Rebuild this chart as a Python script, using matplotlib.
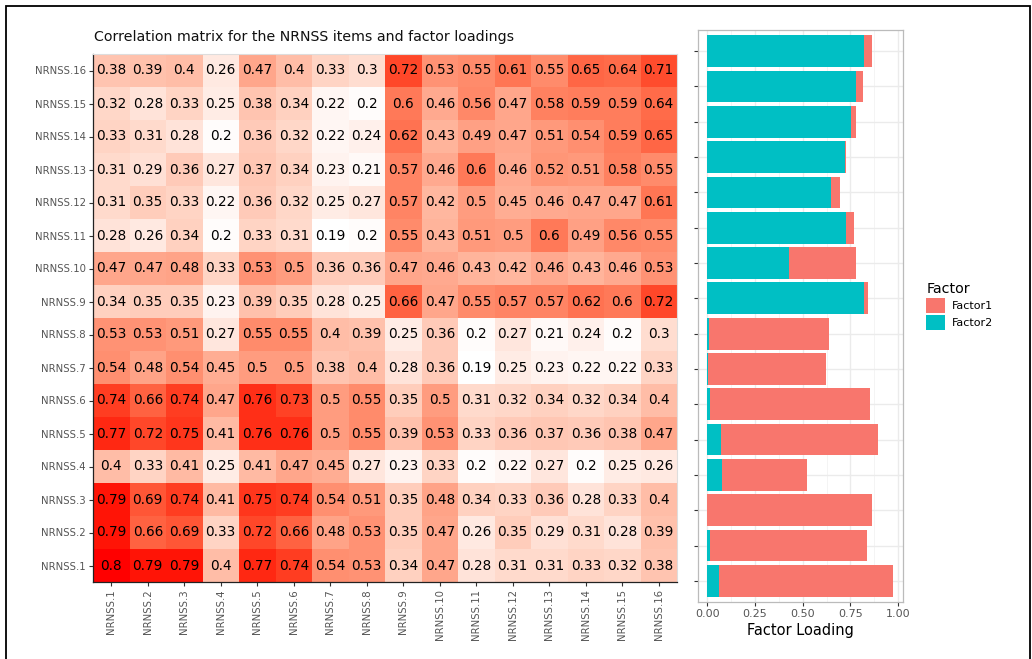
import numpy as np
import matplotlib
matplotlib.use("Agg")
import matplotlib.pyplot as plt
from matplotlib.colors import ListedColormap
from matplotlib.patches import Rectangle, Patch

items = ["NRNSS.%d" % i for i in range(1, 17)]

# correlation rows, listed for row labels NRNSS.1 ... NRNSS.16 ; columns NRNSS.1 ... NRNSS.16
row_1 = [0.8, 0.79, 0.79, 0.4, 0.77, 0.74, 0.54, 0.53, 0.34, 0.47, 0.28, 0.31, 0.31, 0.33, 0.32, 0.38]
row_2 = [0.79, 0.66, 0.69, 0.33, 0.72, 0.66, 0.48, 0.53, 0.35, 0.47, 0.26, 0.35, 0.29, 0.31, 0.28, 0.39]
row_3 = [0.79, 0.69, 0.74, 0.41, 0.75, 0.74, 0.54, 0.51, 0.35, 0.48, 0.34, 0.33, 0.36, 0.28, 0.33, 0.4]
row_4 = [0.4, 0.33, 0.41, 0.25, 0.41, 0.47, 0.45, 0.27, 0.23, 0.33, 0.2, 0.22, 0.27, 0.2, 0.25, 0.26]
row_5 = [0.77, 0.72, 0.75, 0.41, 0.76, 0.76, 0.5, 0.55, 0.39, 0.53, 0.33, 0.36, 0.37, 0.36, 0.38, 0.47]
row_6 = [0.74, 0.66, 0.74, 0.47, 0.76, 0.73, 0.5, 0.55, 0.35, 0.5, 0.31, 0.32, 0.34, 0.32, 0.34, 0.4]
row_7 = [0.54, 0.48, 0.54, 0.45, 0.5, 0.5, 0.38, 0.4, 0.28, 0.36, 0.19, 0.25, 0.23, 0.22, 0.22, 0.33]
row_8 = [0.53, 0.53, 0.51, 0.27, 0.55, 0.55, 0.4, 0.39, 0.25, 0.36, 0.2, 0.27, 0.21, 0.24, 0.2, 0.3]
row_9 = [0.34, 0.35, 0.35, 0.23, 0.39, 0.35, 0.28, 0.25, 0.66, 0.47, 0.55, 0.57, 0.57, 0.62, 0.6, 0.72]
row_10 = [0.47, 0.47, 0.48, 0.33, 0.53, 0.5, 0.36, 0.36, 0.47, 0.46, 0.43, 0.42, 0.46, 0.43, 0.46, 0.53]
row_11 = [0.28, 0.26, 0.34, 0.2, 0.33, 0.31, 0.19, 0.2, 0.55, 0.43, 0.51, 0.5, 0.6, 0.49, 0.56, 0.55]
row_12 = [0.31, 0.35, 0.33, 0.22, 0.36, 0.32, 0.25, 0.27, 0.57, 0.42, 0.5, 0.45, 0.46, 0.47, 0.47, 0.61]
row_13 = [0.31, 0.29, 0.36, 0.27, 0.37, 0.34, 0.23, 0.21, 0.57, 0.46, 0.6, 0.46, 0.52, 0.51, 0.58, 0.55]
row_14 = [0.33, 0.31, 0.28, 0.2, 0.36, 0.32, 0.22, 0.24, 0.62, 0.43, 0.49, 0.47, 0.51, 0.54, 0.59, 0.65]
row_15 = [0.32, 0.28, 0.33, 0.25, 0.38, 0.34, 0.22, 0.2, 0.6, 0.46, 0.56, 0.47, 0.58, 0.59, 0.59, 0.64]
row_16 = [0.38, 0.39, 0.4, 0.26, 0.47, 0.4, 0.33, 0.3, 0.72, 0.53, 0.55, 0.61, 0.55, 0.65, 0.64, 0.71]

# factor loadings for NRNSS.1 ... NRNSS.16
factor2 = [0.059, 0.016, 0.0, 0.077, 0.070, 0.014, 0.003, 0.010,
           0.822, 0.429, 0.728, 0.646, 0.721, 0.752, 0.782, 0.820]
factor1 = [0.917, 0.820, 0.862, 0.448, 0.827, 0.839, 0.620, 0.629,
           0.021, 0.348, 0.042, 0.050, 0.005, 0.025, 0.036, 0.046]

corr = np.array([row_1, row_2, row_3, row_4, row_5, row_6, row_7, row_8,
                 row_9, row_10, row_11, row_12, row_13, row_14, row_15, row_16])


def lab_to_rgb(L, a, b):
    fy = (L + 16) / 116.0
    fx = fy + a / 500.0
    fz = fy - b / 200.0

    def finv(t):
        return t ** 3 if t ** 3 > 0.008856 else (t - 16 / 116.0) / 7.787
    X = 0.95047 * finv(fx)
    Y = 1.0 * finv(fy)
    Z = 1.08883 * finv(fz)
    r = 3.2406 * X - 1.5372 * Y - 0.4986 * Z
    g = -0.9689 * X + 1.8758 * Y + 0.0415 * Z
    bb = 0.0557 * X - 0.2040 * Y + 1.0570 * Z
    out = []
    for c in (r, g, bb):
        c = max(c, 0.0)
        c = 12.92 * c if c <= 0.0031308 else 1.055 * c ** (1 / 2.4) - 0.055
        out.append(min(max(c, 0.0), 1.0))
    return out


lab_lo = np.array([100.0, 0.0, 0.0])
lab_hi = np.array([53.24, 80.09, 67.20])
cols = [lab_to_rgb(*(lab_lo + t * (lab_hi - lab_lo))) for t in np.linspace(0, 1, 256)]
cmap = ListedColormap(cols)

W, H = 1032, 659
fig = plt.figure(figsize=(W / 100, H / 100), dpi=100)
plt.rcParams['font.family'] = ['DejaVu Sans']


def rect(l, r, t, b):
    return [l / W, (H - b) / H, (r - l) / W, (b - t) / H]


# outer frame
fig.patches.append(Rectangle((6 / W, -0.02), (1030 - 6) / W, 1 - 6 / H + 0.02,
                             transform=fig.transFigure, fill=False,
                             edgecolor='black', linewidth=1.3))

# ---- heatmap ----
ax = fig.add_axes(rect(93, 677, 54, 582))
n = len(items)
xe = np.arange(0.5, n + 1, 1.0)
ax.pcolormesh(xe, xe, corr, cmap=cmap, vmin=corr.min(), vmax=corr.max())
for i in range(n):
    for j in range(n):
        ax.text(j + 1, i + 1, "%g" % corr[i, j], ha='center', va='center',
                fontsize=9.8, color='black')
ax.set_xlim(0.5, n + 0.5)
ax.set_ylim(0.5, n + 0.5)
ax.set_xticks(range(1, n + 1))
ax.set_yticks(range(1, n + 1))
ax.set_xticklabels(items, rotation=90, fontsize=7.3, color='#555555')
ax.set_yticklabels(items, fontsize=7.3, color='#555555')
ax.tick_params(length=3, width=0.8, color='#333333', pad=2)
for s in ['top', 'right']:
    ax.spines[s].set_color('#DDDDDD')
    ax.spines[s].set_linewidth(0.8)
for s in ['left', 'bottom']:
    ax.spines[s].set_color('#222222')
    ax.spines[s].set_linewidth(0.9)
fig.text(94 / W, 1 - 37 / H, "Correlation matrix for the NRNSS items and factor loadings",
         ha='left', va='center', fontsize=10.2, color='#111111')

# ---- factor loading bars ----
bx = fig.add_axes(rect(698, 903, 30, 602))
ypos = np.arange(1, n + 1)
c1, c2 = '#F8766D', '#00BFC4'
bx.barh(ypos, factor2, height=0.9, color=c2, zorder=3)
bx.barh(ypos, factor1, left=factor2, height=0.9, color=c1, zorder=3)
bx.set_xlim(-0.049, 1.026)
bx.set_ylim(0.4, n + 0.6)
bx.set_xticks([0, 0.25, 0.5, 0.75, 1.0])
bx.set_xticklabels(["0.00", "0.25", "0.50", "0.75", "1.00"], fontsize=8, color='#555555')
bx.set_xticks([0.125, 0.375, 0.625, 0.875], minor=True)
bx.set_yticks(ypos)
bx.set_yticklabels([])
bx.tick_params(axis='both', length=3, width=0.8, color='#333333', pad=2)
bx.tick_params(axis='x', which='minor', length=0)
bx.grid(True, which='major', color='#EBEBEB', linewidth=1.0, zorder=0)
bx.grid(True, which='minor', axis='x', color='#F2F2F2', linewidth=0.6, zorder=0)
bx.set_axisbelow(True)
for s in bx.spines.values():
    s.set_color('#BBBBBB')
    s.set_linewidth(0.9)
bx.set_xlabel("Factor Loading", fontsize=10.5, labelpad=3)

# legend
handles = [Patch(facecolor=c1, edgecolor='none', label='Factor1'),
           Patch(facecolor=c2, edgecolor='none', label='Factor2')]
leg = fig.legend(handles=handles, title='Factor', loc='upper left',
                 bbox_to_anchor=(922 / W, 1 - 278 / H), frameon=False,
                 fontsize=8, title_fontsize=10.3, handlelength=1.7, handleheight=1.7,
                 handletextpad=0.6, labelspacing=0.15, borderaxespad=0)
leg._legend_box.align = 'left'

fig.savefig("out.png", dpi=100)
